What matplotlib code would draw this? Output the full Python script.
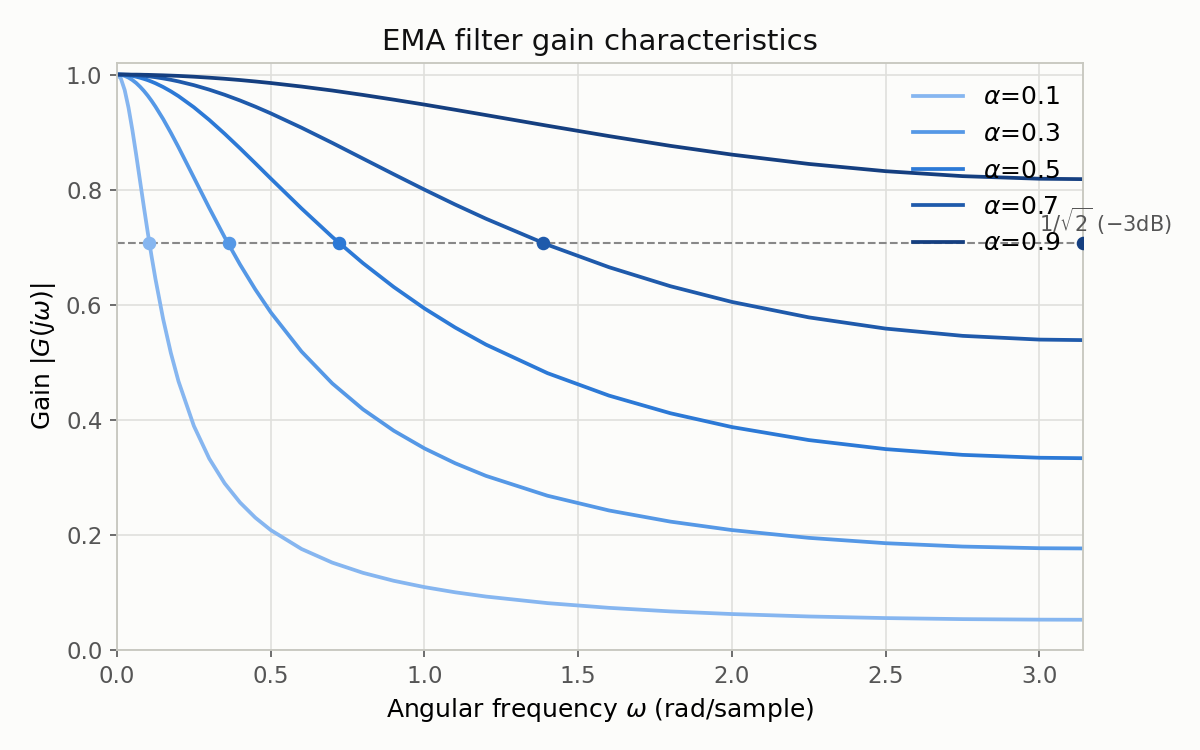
import matplotlib
matplotlib.use('Agg')
from matplotlib import pyplot as plt
import math

# angular frequency grid (rad/sample)
omega = [0, 0.0125, 0.025, 0.0375, 0.05, 0.0625, 0.075, 0.0875, 0.1, 0.1125,
         0.125, 0.15, 0.175, 0.2, 0.25, 0.3, 0.35, 0.4, 0.45, 0.5, 0.6, 0.7,
         0.8, 0.9, 1.0, 1.1, 1.2, 1.4, 1.6, 1.8, 2.0, 2.25, 2.5, 2.75, 3.0, math.pi]

alphas = [0.1, 0.3, 0.5, 0.7, 0.9]

gain_01 = [1.0, 0.9931, 0.9730, 0.9422, 0.9035, 0.8602, 0.8149, 0.7695, 0.7256, 0.6839,
           0.6449, 0.5753, 0.5165, 0.4669, 0.3894, 0.3326, 0.2897, 0.2564, 0.2299, 0.2084,
           0.1756, 0.1519, 0.1341, 0.1203, 0.1093, 0.1003, 0.0929, 0.0815, 0.0733, 0.0671,
           0.0625, 0.0583, 0.0555, 0.0537, 0.0528, 0.0526]
gain_03 = [1.0, 0.9994, 0.9976, 0.9946, 0.9904, 0.9852, 0.9788, 0.9715, 0.9633, 0.9542,
           0.9443, 0.9227, 0.8989, 0.8737, 0.8210, 0.7681, 0.7174, 0.6700, 0.6264, 0.5868,
           0.5187, 0.4633, 0.4182, 0.3811, 0.3503, 0.3245, 0.3026, 0.2681, 0.2425, 0.2231,
           0.2084, 0.1949, 0.1856, 0.1798, 0.1769, 0.1765]
gain_05 = [1.0, 0.9998, 0.9994, 0.9986, 0.9975, 0.9961, 0.9944, 0.9924, 0.9902, 0.9876,
           0.9848, 0.9783, 0.9708, 0.9624, 0.9431, 0.9211, 0.8971, 0.8718, 0.8457, 0.8193,
           0.7673, 0.7178, 0.6722, 0.6308, 0.5935, 0.5603, 0.5307, 0.4811, 0.4421, 0.4114,
           0.3874, 0.3648, 0.3491, 0.3391, 0.3341, 0.3333]
gain_07 = [1.0, 1.0000, 0.9998, 0.9996, 0.9992, 0.9988, 0.9983, 0.9977, 0.9970, 0.9962,
           0.9953, 0.9932, 0.9908, 0.9880, 0.9815, 0.9737, 0.9648, 0.9549, 0.9441, 0.9325,
           0.9076, 0.8812, 0.8539, 0.8267, 0.7999, 0.7740, 0.7494, 0.7042, 0.6652, 0.6321,
           0.6048, 0.5780, 0.5585, 0.5459, 0.5394, 0.5385]
gain_09 = [1.0, 1.0000, 1.0000, 0.9999, 0.9998, 0.9998, 0.9997, 0.9995, 0.9994, 0.9992,
           0.9990, 0.9986, 0.9981, 0.9976, 0.9962, 0.9945, 0.9926, 0.9904, 0.9879, 0.9852,
           0.9791, 0.9722, 0.9645, 0.9563, 0.9477, 0.9387, 0.9295, 0.9110, 0.8930, 0.8760,
           0.8608, 0.8446, 0.8320, 0.8234, 0.8189, 0.8182]
gains = [gain_01, gain_03, gain_05, gain_07, gain_09]

# -3dB crossing frequencies (alpha=0.9 never crosses, marked at the Nyquist edge)
cutoff_omega = [0.1054, 0.3638, 0.7227, 1.3865, math.pi]
cutoff_level = 0.7071

colors = ['#86b6f0', '#5598e6', '#2c79d6', '#1f5aab', '#153f80']

bg = '#fcfcfa'
fig, ax = plt.subplots(figsize=(8, 5), dpi=150, facecolor=bg)
ax.set_facecolor(bg)
fig.subplots_adjust(left=0.0975, right=0.9025, top=0.916, bottom=0.1333)

for a, g, c in zip(alphas, gains, colors):
    ax.plot(omega, g, color=c, lw=1.8, label=rf'$\alpha$={a}')

ax.axhline(cutoff_level, color='#888888', lw=1.0, ls='--', zorder=1)
for w, c in zip(cutoff_omega, colors):
    ax.plot([w], [cutoff_level], 'o', color=c, ms=5.5, zorder=5)
ax.text(3.0, cutoff_level + 0.01, r'$1/\sqrt{2}$ ($-$3dB)', color='#555555',
        fontsize=10, ha='left', va='bottom')

ax.set_xlim(0, math.pi)
ax.set_ylim(0, 1.02)
ax.set_title('EMA filter gain characteristics', fontsize=14, color='#111111')
ax.set_xlabel(r'Angular frequency $\omega$ (rad/sample)', fontsize=12)
ax.set_ylabel(r'Gain $|G(j\omega)|$', fontsize=12)
ax.grid(True, color='#e0e0dc', lw=0.8)
ax.set_axisbelow(True)
for s in ax.spines.values():
    s.set_color('#c8c8c0')
    s.set_linewidth(0.9)
ax.tick_params(labelsize=11, colors='#555555', length=3.5)
ax.legend(loc='upper right', frameon=False, fontsize=12)

fig.savefig('out.png', dpi=150, facecolor=bg)
